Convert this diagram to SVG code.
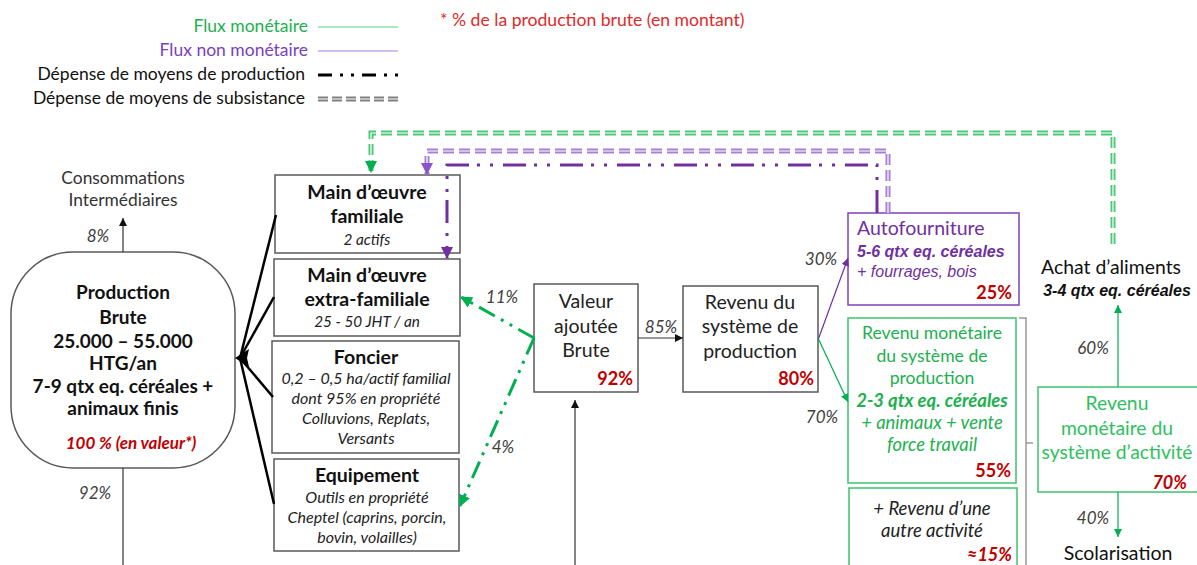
<svg xmlns="http://www.w3.org/2000/svg" width="1197" height="565" viewBox="0 0 1197 565">
<style>
text{font-family:Lato,"Liberation Sans",sans-serif;}
.c{text-anchor:middle}
.r{text-anchor:end}
.t{font-size:19px;font-weight:bold;fill:#111}
.it{font-size:16px;font-style:italic;fill:#222}
.pct{font-size:17px;font-style:italic;fill:#404040}
.red{font-size:18px;font-weight:bold;fill:#C00000}
.reg{font-size:19.5px;fill:#222}
.lg{font-size:17.5px;fill:#111}
.ar{font-family:"Liberation Sans",Arial,sans-serif}
.box{fill:#fff;stroke:#595959;stroke-width:1.5}
.gbox{fill:#fff;stroke:#3cc46e;stroke-width:1.5}
.pbox{fill:#fff;stroke:#8040b8;stroke-width:1.5}
.thin{fill:none;stroke:#333;stroke-width:1.2}
.blk{fill:none;stroke:#000;stroke-width:2.5}
.gdd{fill:none;stroke:#00B050;stroke-width:3;stroke-dasharray:18 7 3 7 3 7}
.pdd{fill:none;stroke:#7030A0;stroke-width:3;stroke-dasharray:23 10 3 10 3 8}
.gdbl{fill:none;stroke:#4cc87a;stroke-width:5;stroke-dasharray:11 5}
.pdbl{fill:none;stroke:#a67fd6;stroke-width:5;stroke-dasharray:11 5}
.wc{fill:none;stroke:#fff;stroke-width:1.2}
.gt{fill:#22b04f;font-size:17.6px}
</style>
<defs>
<marker id="ak" markerUnits="userSpaceOnUse" markerWidth="8" markerHeight="8" refX="8" refY="4" orient="auto"><path d="M0,0 L8,4 L0,8 z" fill="#111"/></marker>
<marker id="ag" markerUnits="userSpaceOnUse" markerWidth="8" markerHeight="8" refX="8" refY="4" orient="auto"><path d="M0,0 L8,4 L0,8 z" fill="#00B050"/></marker>
<marker id="agb" markerUnits="userSpaceOnUse" markerWidth="12" markerHeight="12" refX="11" refY="6" orient="auto"><path d="M0,0 L12,6 L0,12 z" fill="#00B050"/></marker>
<marker id="apb" markerUnits="userSpaceOnUse" markerWidth="12" markerHeight="12" refX="11" refY="6" orient="auto"><path d="M0,0 L12,6 L0,12 z" fill="#7030A0"/></marker>
<marker id="ap" markerUnits="userSpaceOnUse" markerWidth="8" markerHeight="8" refX="8" refY="4" orient="auto"><path d="M0,0 L8,4 L0,8 z" fill="#7030A0"/></marker>
<marker id="apl" markerUnits="userSpaceOnUse" markerWidth="12" markerHeight="12" refX="11" refY="6" orient="auto"><path d="M0,0 L12,6 L0,12 z" fill="#8a55c8"/></marker>
</defs>
<rect width="1197" height="565" fill="#fff"/>

<g id="legend">
<text x="308" y="32" class="r lg" style="fill:#22b04f">Flux monétaire</text>
<line x1="318" y1="27" x2="398" y2="27" stroke="#5ccf85" stroke-width="1.2"/>
<text x="308" y="56" class="r lg" style="fill:#7a3fc0">Flux non monétaire</text>
<line x1="318" y1="51" x2="398" y2="51" stroke="#c3a8e6" stroke-width="1.5"/>
<text x="305" y="80" class="r lg">Dépense de moyens de production</text>
<line x1="318" y1="75" x2="398" y2="75" stroke="#000" stroke-width="3" stroke-dasharray="14 8 3 8 3 8"/>
<text x="305" y="104" class="r lg">Dépense de moyens de subsistance</text>
<line x1="318" y1="99" x2="398" y2="99" stroke="#808080" stroke-width="5" stroke-dasharray="10 4"/>
<line x1="318" y1="99" x2="398" y2="99" stroke="#fff" stroke-width="1.2"/>
<text x="440" y="26" style="font-size:17.6px;fill:#dd2a2a">* % de la production brute (en montant)</text>
</g>

<g id="production-brute">
<rect x="11" y="252" width="224" height="216" rx="62" class="box"/>
<text x="123" y="299" class="c t">Production</text>
<text x="123" y="324" class="c t">Brute</text>
<text x="123" y="348" class="c t">25.000 – 55.000</text>
<text x="123" y="370" class="c t">HTG/an</text>
<text x="123" y="393" class="c t">7-9 qtx eq. céréales +</text>
<text x="123" y="415" class="c t">animaux finis</text>
<text x="131" y="449" class="c red" style="font-style:italic;font-size:17px">100 % (en valeur*)</text>
</g>

<g id="mo-familiale">
<rect x="275" y="175" width="185" height="78" class="box"/>
<text x="367" y="199" class="c t" style="font-size:19.5px">Main d’œuvre</text>
<text x="367" y="223" class="c t" style="font-size:19.5px">familiale</text>
<text x="367" y="245" class="c it" style="font-size:15.3px">2 actifs</text>
</g>

<g id="mo-extra">
<rect x="274" y="259" width="186" height="77" class="box"/>
<text x="367" y="282" class="c t" style="font-size:19.5px">Main d’œuvre</text>
<text x="367" y="306" class="c t" style="font-size:19.5px">extra-familiale</text>
<text x="367" y="327" class="c it" style="font-size:15.3px">25 - 50 JHT / an</text>
</g>

<g id="foncier">
<rect x="272" y="341" width="187" height="112" class="box"/>
<text x="366" y="364" class="c t" style="font-size:19.5px">Foncier</text>
<text x="366" y="384" class="c it">0,2 – 0,5 ha/actif familial</text>
<text x="366" y="404" class="c it">dont 95% en propriété</text>
<text x="366" y="424" class="c it">Colluvions, Replats,</text>
<text x="366" y="444" class="c it">Versants</text>
</g>

<g id="equipement">
<rect x="274" y="459" width="185" height="92" class="box"/>
<text x="367" y="482" class="c t" style="font-size:19.5px">Equipement</text>
<text x="367" y="503" class="c it">Outils en propriété</text>
<text x="367" y="523" class="c it">Cheptel (caprins, porcin,</text>
<text x="367" y="543" class="c it">bovin, volailles)</text>
</g>

<g id="valeur-ajoutee">
<rect x="534" y="284" width="104" height="108" class="box"/>
<text x="586" y="308" class="c reg">Valeur</text>
<text x="586" y="333" class="c reg">ajoutée</text>
<text x="586" y="357" class="c reg">Brute</text>
<text x="633" y="385" class="r red">92%</text>
</g>

<g id="revenu-sp">
<rect x="683" y="286" width="135" height="106" class="box"/>
<text x="750" y="309" class="c reg">Revenu du</text>
<text x="750" y="333" class="c reg">système de</text>
<text x="750" y="358" class="c reg">production</text>
<text x="814" y="385" class="r red">80%</text>
</g>

<g id="autofourniture">
<rect x="848" y="213" width="171" height="92" class="pbox"/>
<text x="857" y="235" style="font-size:19.5px;fill:#7030A0">Autofourniture</text>
<text x="857" y="257" class="ar" style="font-size:16px;font-weight:bold;font-style:italic;fill:#7030A0">5-6 qtx eq. céréales</text>
<text x="857" y="277" class="ar" style="font-size:16px;font-style:italic;fill:#7030A0">+ fourrages,  bois</text>
<text x="1012" y="299" class="r red">25%</text>
</g>

<g id="revenu-monetaire-sp">
<rect x="848" y="318" width="168" height="165" class="gbox"/>
<text x="932" y="339" class="c gt">Revenu monétaire</text>
<text x="932" y="362" class="c gt">du système de</text>
<text x="932" y="384" class="c gt">production</text>
<text x="932" y="407" class="c gt" style="font-size:18.5px;font-weight:bold;font-style:italic">2-3 qtx eq. céréales</text>
<text x="932" y="429" class="c gt" style="font-size:18.4px;font-style:italic">+ animaux + vente</text>
<text x="932" y="451" class="c gt" style="font-size:18.4px;font-style:italic">force travail</text>
<text x="1011" y="477" class="r red">55%</text>
</g>

<g id="autre-activite">
<rect x="849" y="488" width="168" height="85" class="gbox"/>
<text x="932" y="515" class="c" style="font-size:18.5px;font-style:italic;fill:#222">+ Revenu d’une</text>
<text x="932" y="537" class="c" style="font-size:18.5px;font-style:italic;fill:#222">autre activité</text>
<text x="1012" y="561" class="r red" style="font-style:italic">≈15%</text>
</g>

<g id="achat-aliments">
<text x="1111" y="274" class="c" style="font-size:19.4px;fill:#111">Achat d’aliments</text>
<text x="1117" y="296" class="c ar" style="font-size:16px;font-weight:bold;font-style:italic;fill:#111">3-4 qtx eq. céréales</text>
</g>

<g id="revenu-monetaire-sa">
<rect x="1038" y="387" width="165" height="105" class="gbox"/>
<text x="1117" y="410" class="c" style="font-size:19.3px;fill:#2fbf5f">Revenu</text>
<text x="1117" y="435" class="c" style="font-size:19.3px;fill:#2fbf5f">monétaire du</text>
<text x="1117" y="459" class="c" style="font-size:19.3px;fill:#2fbf5f">système d’activité</text>
<text x="1187" y="489" class="r red" style="font-style:italic">70%</text>
</g>

<g id="scolarisation">
<text x="1118" y="560" class="c" style="font-size:19.5px;fill:#111">Scolarisation</text>
</g>

<g id="connectors">
<path class="thin" d="M123 252 V218" marker-end="url(#ak)"/>
<path class="thin" d="M123 468 V565"/>
<path class="blk" d="M276 215 L240 358"/>
<path class="blk" d="M274 297 L240 358"/>
<path class="blk" d="M273 397 L240 358"/>
<path class="blk" d="M274 504 L240 358"/>
<path d="M235 358 L249 349 L247 358 L249 367 z" fill="#000"/>
<path class="thin" d="M638 338 H683" marker-end="url(#ak)"/>
<path class="thin" d="M575 565 V400" marker-end="url(#ak)"/>
<path class="gdd" d="M534 338 L461 297" marker-end="url(#agb)"/>
<path class="gdd" d="M534 338 L460 506" marker-end="url(#agb)"/>
<path d="M818 340 L848 258" fill="none" stroke="#7030A0" stroke-width="1.2" marker-end="url(#ap)"/>
<path d="M818 338 L848 402" fill="none" stroke="#00B050" stroke-width="1.2" marker-end="url(#ag)"/>
<path d="M1118 387 V305" fill="none" stroke="#00B050" stroke-width="1.2" marker-end="url(#ag)"/>
<path d="M1118 492 V537" fill="none" stroke="#00B050" stroke-width="1.2" marker-end="url(#ag)"/>
<path d="M1019 318 H1026 V565 M1026 443 H1033" fill="none" stroke="#999" stroke-width="1.5"/>
<path class="gdbl" d="M1113 244 V133 H371 V172" marker-end="url(#agb)"/>
<path class="wc" d="M1113 244 V133 H371 V161"/>
<path class="pdbl" d="M888 213 V151 H427 V174" marker-end="url(#apl)"/>
<path class="wc" d="M888 213 V151 H427 V163"/>
<path class="pdd" d="M877 213 V165 H447 V258" marker-end="url(#apb)"/>
<text x="123" y="184" class="c" style="font-size:17.4px;fill:#333">Consommations</text>
<text x="123" y="206" class="c" style="font-size:17.4px;fill:#333">Intermédiaires</text>
<text x="98" y="242" class="c pct">8%</text>
<text x="95" y="499" class="c pct">92%</text>
<text x="661" y="333" class="c pct">85%</text>
<text x="502" y="303" class="c pct">11%</text>
<text x="503" y="453" class="c pct">4%</text>
<text x="821" y="265" class="c pct">30%</text>
<text x="822" y="423" class="c pct">70%</text>
<text x="1093" y="354" class="c pct">60%</text>
<text x="1093" y="524" class="c pct">40%</text>
</g>
</svg>
